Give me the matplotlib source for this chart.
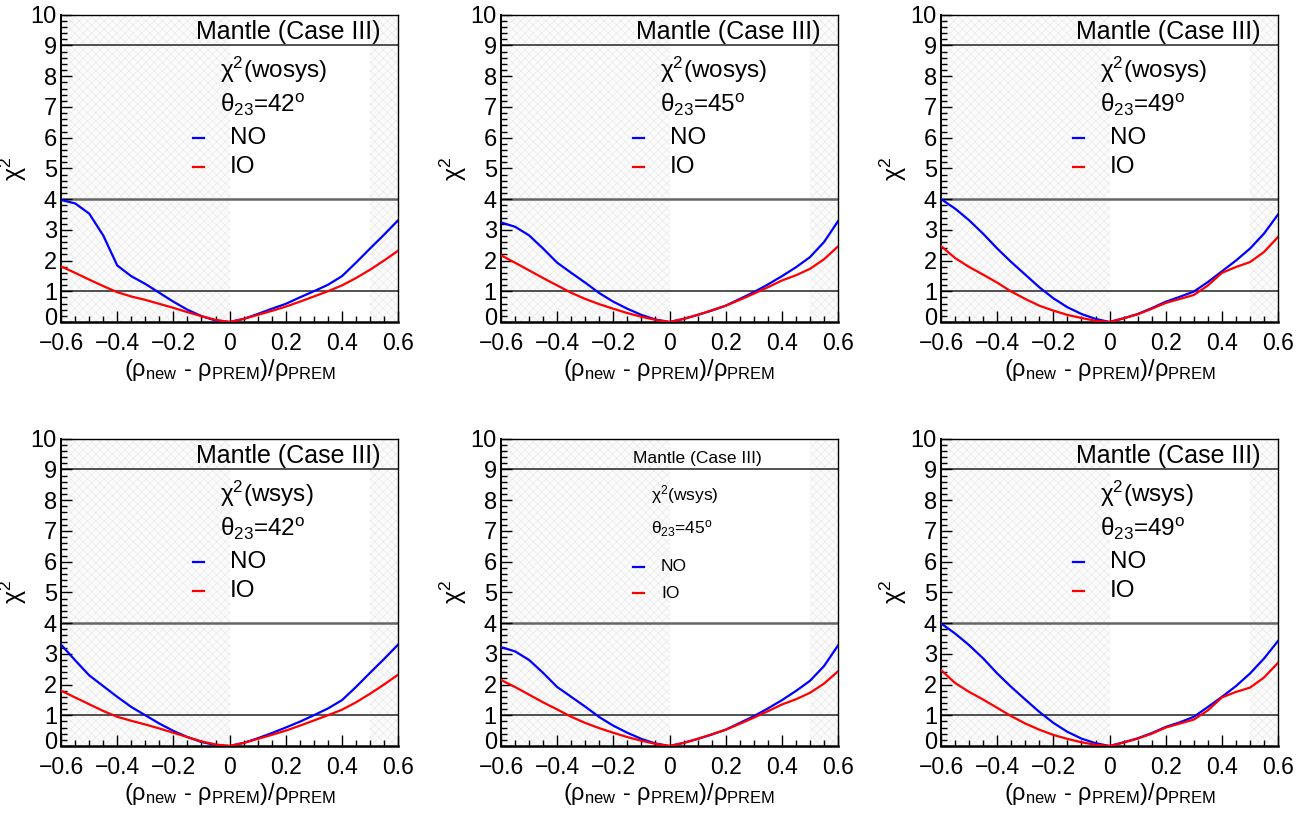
import numpy as np
import matplotlib
matplotlib.use('Agg')
import matplotlib.pyplot as plt
import matplotlib.transforms as mtransforms
from matplotlib.ticker import MultipleLocator

plt.rcParams['font.family'] = ['Liberation Sans', 'DejaVu Sans']
plt.rcParams['mathtext.default'] = 'regular'
plt.rcParams['hatch.linewidth'] = 0.4

# density deviation grid
x = [-0.6, -0.55, -0.5, -0.45, -0.4, -0.35, -0.3, -0.25, -0.2, -0.15, -0.1, -0.05, 0.0,
     0.05, 0.1, 0.15, 0.2, 0.25, 0.3, 0.35, 0.4, 0.45, 0.5, 0.55, 0.6]

# chi2 without systematics
no_wo_42 = [3.97, 3.86, 3.53, 2.82, 1.84, 1.49, 1.24, 0.95, 0.66, 0.40, 0.19, 0.05, 0.0,
            0.10, 0.26, 0.43, 0.59, 0.80, 1.00, 1.21, 1.49, 1.93, 2.39, 2.84, 3.31]
io_wo_42 = [1.81, 1.60, 1.38, 1.17, 0.97, 0.83, 0.72, 0.59, 0.46, 0.32, 0.19, 0.07, 0.0,
            0.10, 0.23, 0.36, 0.50, 0.66, 0.83, 1.00, 1.19, 1.43, 1.70, 2.00, 2.32]
no_wo_45 = [3.24, 3.10, 2.82, 2.39, 1.93, 1.60, 1.28, 0.94, 0.66, 0.43, 0.23, 0.08, 0.0,
            0.10, 0.23, 0.37, 0.53, 0.75, 0.97, 1.22, 1.49, 1.78, 2.11, 2.60, 3.28]
io_wo_45 = [2.17, 1.93, 1.68, 1.43, 1.19, 0.95, 0.75, 0.58, 0.43, 0.29, 0.17, 0.07, 0.0,
            0.10, 0.23, 0.38, 0.53, 0.72, 0.92, 1.13, 1.35, 1.52, 1.73, 2.04, 2.46]
no_wo_49 = [4.00, 3.69, 3.31, 2.87, 2.39, 1.95, 1.54, 1.13, 0.77, 0.48, 0.26, 0.10, 0.0,
            0.12, 0.26, 0.45, 0.66, 0.82, 0.99, 1.30, 1.65, 2.00, 2.39, 2.88, 3.50]
io_wo_49 = [2.47, 2.08, 1.79, 1.54, 1.28, 0.99, 0.75, 0.53, 0.37, 0.23, 0.13, 0.04, 0.0,
            0.12, 0.25, 0.43, 0.62, 0.75, 0.88, 1.19, 1.60, 1.79, 1.95, 2.28, 2.77]

# chi2 with systematics
no_w_42 = [3.30, 2.79, 2.30, 1.95, 1.60, 1.27, 1.00, 0.73, 0.49, 0.29, 0.13, 0.03, 0.0,
           0.10, 0.25, 0.42, 0.60, 0.79, 1.00, 1.22, 1.49, 1.92, 2.38, 2.83, 3.30]
io_w_42 = [1.80, 1.58, 1.36, 1.14, 0.95, 0.82, 0.70, 0.57, 0.43, 0.29, 0.15, 0.05, 0.0,
           0.10, 0.23, 0.36, 0.50, 0.66, 0.83, 1.00, 1.18, 1.42, 1.70, 2.00, 2.32]
no_w_45 = [3.22, 3.08, 2.80, 2.38, 1.92, 1.60, 1.28, 0.94, 0.66, 0.43, 0.23, 0.08, 0.0,
           0.10, 0.23, 0.37, 0.53, 0.75, 0.97, 1.22, 1.49, 1.79, 2.12, 2.60, 3.27]
io_w_45 = [2.15, 1.92, 1.67, 1.42, 1.19, 0.95, 0.75, 0.58, 0.43, 0.29, 0.17, 0.07, 0.0,
           0.10, 0.23, 0.38, 0.53, 0.72, 0.92, 1.13, 1.35, 1.52, 1.73, 2.03, 2.43]
no_w_49 = [3.99, 3.66, 3.28, 2.85, 2.36, 1.92, 1.51, 1.11, 0.75, 0.46, 0.24, 0.09, 0.0,
           0.12, 0.25, 0.42, 0.62, 0.77, 0.95, 1.27, 1.60, 1.95, 2.36, 2.85, 3.42]
io_w_49 = [2.47, 2.05, 1.76, 1.51, 1.24, 0.97, 0.73, 0.53, 0.36, 0.23, 0.12, 0.04, 0.0,
           0.11, 0.24, 0.40, 0.60, 0.73, 0.86, 1.16, 1.58, 1.76, 1.90, 2.23, 2.71]

xticks = [-0.6, -0.4, -0.2, 0, 0.2, 0.4, 0.6]
xticklabels = ['\u22120.6', '\u22120.4', '\u22120.2', '0', '0.2', '0.4', '0.6']
yticks = list(range(11))

panels = [
    (no_wo_42, io_wo_42, 'wosys', '42', False),
    (no_wo_45, io_wo_45, 'wosys', '45', False),
    (no_wo_49, io_wo_49, 'wosys', '49', False),
    (no_w_42, io_w_42, 'wsys', '42', False),
    (no_w_45, io_w_45, 'wsys', '45', True),
    (no_w_49, io_w_49, 'wsys', '49', False),
]

fig = plt.figure(figsize=(13.16, 8.16), dpi=100)

lefts = [0.0464, 0.3807, 0.7151]
bottoms = [0.6054, 0.0858]
w, h = 0.2561, 0.3765

for i, (no, io, sysname, th, small) in enumerate(panels):
    ax = fig.add_axes([lefts[i % 3], bottoms[i // 3], w, h])
    ax.set_xlim(-0.6, 0.6)
    ax.set_ylim(0, 10)

    # excluded density regions
    for a, b in [(-0.6, 0.0), (0.5, 0.6)]:
        ax.axvspan(a, b, facecolor='#fbfbfb', edgecolor='#e6e6e6', hatch='xxxx',
                   lw=0, zorder=0)

    ax.axhline(9, color='#333333', lw=1.2, zorder=1)
    ax.axhline(4, color='#666666', lw=1.8, zorder=1)
    ax.axhline(1, color='#333333', lw=1.2, zorder=1)

    ax.plot(x, no, color='#0000ff', lw=1.6, zorder=3)
    ax.plot(x, io, color='#ff0000', lw=1.6, zorder=3)

    # labels in the top part of the pad
    if small:
        fs, tx, lx, ny, iy = 12.5, -0.065, -0.03, 5.84, 4.97
        ax.text(0.10, 9.35, 'Mantle (Case III)', ha='center', va='center', fontsize=fs)
    else:
        fs, tx, lx, ny, iy = 17.5, -0.035, 0.0, 6.0, 5.05
        ax.text(0.21, 9.43, 'Mantle (Case III)', ha='center', va='center', fontsize=18)
    ax.text(tx, 8.2, r'$\chi^{2}$(%s)' % sysname, ha='left', va='center', fontsize=fs)
    ax.text(tx, 7.07, r'$\theta_{23}$=%s$^{o}$' % th, ha='left', va='center', fontsize=fs)
    ax.plot([-0.13, -0.09], [ny, ny], color='#0000ff', lw=1.6)
    ax.plot([-0.13, -0.09], [iy, iy], color='#ff0000', lw=1.6)
    ax.text(lx, ny, 'NO', ha='left', va='center', fontsize=fs)
    ax.text(lx, iy, 'IO', ha='left', va='center', fontsize=fs)

    ax.xaxis.set_minor_locator(MultipleLocator(0.05))
    ax.yaxis.set_minor_locator(MultipleLocator(0.2))
    ax.tick_params(which='both', direction='in', top=False, right=False, width=1)
    ax.tick_params(axis='x', which='major', length=8, pad=7, labelsize=16.5)
    ax.tick_params(axis='x', which='minor', length=4)
    ax.tick_params(axis='y', which='major', length=8, pad=3, labelsize=17)
    ax.tick_params(axis='y', which='minor', length=4)
    ax.set_xticks(xticks)
    ax.set_xticklabels(xticklabels)
    ax.set_yticks(yticks)

    # lift the "0" on the y axis a little so it clears the x labels
    zero = ax.yaxis.get_major_ticks()[0].label1
    zero.set_transform(zero.get_transform() +
                       mtransforms.ScaledTranslation(0, 4 / 72, fig.dpi_scale_trans))

    for s in ax.spines.values():
        s.set_linewidth(1.0)
    ax.spines['bottom'].set_linewidth(1.8)
    ax.spines['left'].set_linewidth(1.4)

    ax.set_xlabel(r'($\rho_{new}$ - $\rho_{PREM}$)/$\rho_{PREM}$', fontsize=17, labelpad=2)
    ax.set_ylabel(r'$\chi^{2}$', fontsize=18, labelpad=1)

fig.savefig('out.png', dpi=100)
